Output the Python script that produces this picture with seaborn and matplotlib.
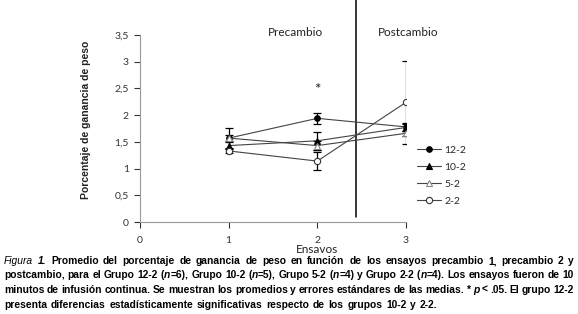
import numpy as np
import pandas as pd
import matplotlib
matplotlib.use('Agg')
import matplotlib.pyplot as plt
import seaborn as sns

# data
ensayos = [1, 2, 3]
grupos = ['12-2', '10-2', '5-2', '2-2']
m_12_2 = [1.57, 1.94, 1.78]
m_10_2 = [1.43, 1.52, 1.77]
m_5_2 = [1.57, 1.43, 1.66]
m_2_2 = [1.33, 1.14, 2.24]
se_12_2 = [0.19, 0.10, 0.07]
se_10_2 = [0.06, 0.17, 0.06]
se_5_2 = [0.05, 0.08, 0.05]
se_2_2 = [0.04, 0.17, 0.78]
x_ticks = [0, 1, 2, 3]
y_ticks = [0, 0.5, 1, 1.5, 2, 2.5, 3, 3.5]
y_ticklabels = ['0', '0,5', '1', '1,5', '2', '2,5', '3', '3,5']
cambio_x = 2.44

sns.set_theme(style='ticks')
plt.rcParams['font.family'] = ['Lato', 'DejaVu Sans']

df = pd.DataFrame({
    'Ensayo': ensayos * 4,
    'Peso': m_12_2 + m_10_2 + m_5_2 + m_2_2,
    'SE': se_12_2 + se_10_2 + se_5_2 + se_2_2,
    'Grupo': [g for g in grupos for _ in ensayos],
})

fig = plt.figure(figsize=(5.78, 3.14), dpi=100)
ax = fig.add_axes([140 / 578, 1 - 222 / 314, 266 / 578, 187 / 314])

styles = {
    '12-2': dict(marker='o', mfc='black', mec='black', ms=4),
    '10-2': dict(marker='^', mfc='black', mec='black', ms=4.5),
    '5-2': dict(marker='^', mfc='white', mec='#888888', ms=4.5),
    '2-2': dict(marker='o', mfc='white', mec='#333333', ms=4.5),
}
for g in grupos:
    d = df[df['Grupo'] == g]
    ax.errorbar(d['Ensayo'], d['Peso'], yerr=d['SE'], fmt='none', ecolor='black',
                elinewidth=0.9, capsize=3, capthick=0.9, zorder=2)
    sns.lineplot(data=d, x='Ensayo', y='Peso', ax=ax, color='#444444', lw=0.8,
                 label=g, zorder=3, mew=0.8, **styles[g])

ax.set_xlim(0, 3)
ax.set_ylim(0, 3.5)
ax.set_xticks(x_ticks)
ax.set_yticks(y_ticks)
ax.set_yticklabels(y_ticklabels)
ax.tick_params(colors='#333333', labelsize=7.5, length=4, width=0.8)
ax.tick_params(axis='x', pad=6)
ax.tick_params(axis='y', pad=4)
for s in ['top', 'right']:
    ax.spines[s].set_visible(False)
for s in ['left', 'bottom']:
    ax.spines[s].set_color('#999999')
    ax.spines[s].set_linewidth(0.8)

ax.set_xlabel('Ensavos', fontsize=8.5, color='#222222')
ax.xaxis.set_label_coords(2 / 3, -0.118)
ax.set_ylabel('Porcentaje de ganancia de peso', fontsize=7.5, fontweight='bold',
              family=['Liberation Sans', 'DejaVu Sans'], color='#222222')
ax.yaxis.set_label_coords(-0.184, 0.545)

# vertical divider between precambio and postcambio
ax.plot([cambio_x, cambio_x], [0.09, 4.2], color='black', lw=1.1, clip_on=False)
ax.text(1.75, 3.54, 'Precambio', ha='center', va='center', fontsize=8.5, color='#222222')
ax.text(3.03, 3.54, 'Postcambio', ha='center', va='center', fontsize=8.5, color='#222222',
        clip_on=False)
ax.text(2, 2.47, '*', ha='center', va='center', fontsize=11, color='#222222')

leg = ax.legend(loc='upper left', bbox_to_anchor=(1.041, 0.41), frameon=False,
                fontsize=7.5, handlelength=2.3, handletextpad=0.3, labelspacing=0.75,
                borderpad=0, borderaxespad=0)

# caption, justified like the original
cap_font = ['Liberation Sans', 'DejaVu Sans']
B, I = 'b', 'i'
caption = [
    [('Figura 1.', I), (' Promedio del porcentaje de ganancia de peso en función de los ensayos precambio 1, precambio 2 y', B)],
    [('postcambio, para el Grupo 12-2 (', B), ('n', I), ('=6), Grupo 10-2 (', B), ('n', I),
     ('=5), Grupo 5-2 (', B), ('n', I), ('=4) y Grupo 2-2 (', B), ('n', I), ('=4). Los ensayos fueron de 10', B)],
    [('minutos de infusión continua. Se muestran los promedios y errores estándares de las medias. * ', B),
     ('p', I), (' < .05. El grupo 12-2', B)],
    [('presenta diferencias estadísticamente significativas respecto de los grupos 10-2 y 2-2.', B)],
]


def words_of(segs):
    words = [[]]
    for txt, st in segs:
        parts = txt.split(' ')
        for i, p in enumerate(parts):
            if i > 0:
                words.append([])
            if p:
                words[-1].append((p, st))
    return [w for w in words if w]


fig.canvas.draw()
renderer = fig.canvas.get_renderer()
W = fig.bbox.width
x0, x1 = 4 / 578, 574 / 578
line_y = [261, 275.5, 290, 304.5]


def make(x, y, s, st, size):
    return fig.text(x, y, s, fontsize=size, family=cap_font, va='center', ha='left',
                    fontweight='normal' if s.startswith('Fig') else 'bold',
                    fontstyle='italic' if st == I else 'normal', color='black')


def measure(s, st, size):
    t = make(0, 0.5, s, st, size)
    wd = t.get_window_extent(renderer).width / W
    t.remove()
    return wd


# choose a size where the widest line fits with normal spacing
size = 8.3
sp = measure('a a', B, size) - measure('aa', B, size)
need = 0
for segs in caption:
    words = words_of(segs)
    tot = sum(measure(s, st, size) for w in words for s, st in w) + sp * 0.9 * (len(words) - 1)
    need = max(need, tot)
if need > x1 - x0:
    size = size * (x1 - x0) / need
sp = measure('a a', B, size) - measure('aa', B, size)

for k, segs in enumerate(caption):
    y = 1 - line_y[k] / 314
    words = words_of(segs)
    arts = []
    widths = []
    for w in words:
        pieces = []
        tot = 0
        for s, st in w:
            t = make(0, y, s, st, size)
            wd = t.get_window_extent(renderer).width / W
            pieces.append((t, wd))
            tot += wd
        arts.append(pieces)
        widths.append(tot)
    if k < len(caption) - 1:
        gap = (x1 - x0 - sum(widths)) / (len(words) - 1)
    else:
        gap = sp * 1.3
    x = x0
    for pieces, tot in zip(arts, widths):
        xx = x
        for t, wd in pieces:
            t.set_x(xx)
            xx += wd
        x += tot + gap

fig.savefig('out.png', dpi=100)
